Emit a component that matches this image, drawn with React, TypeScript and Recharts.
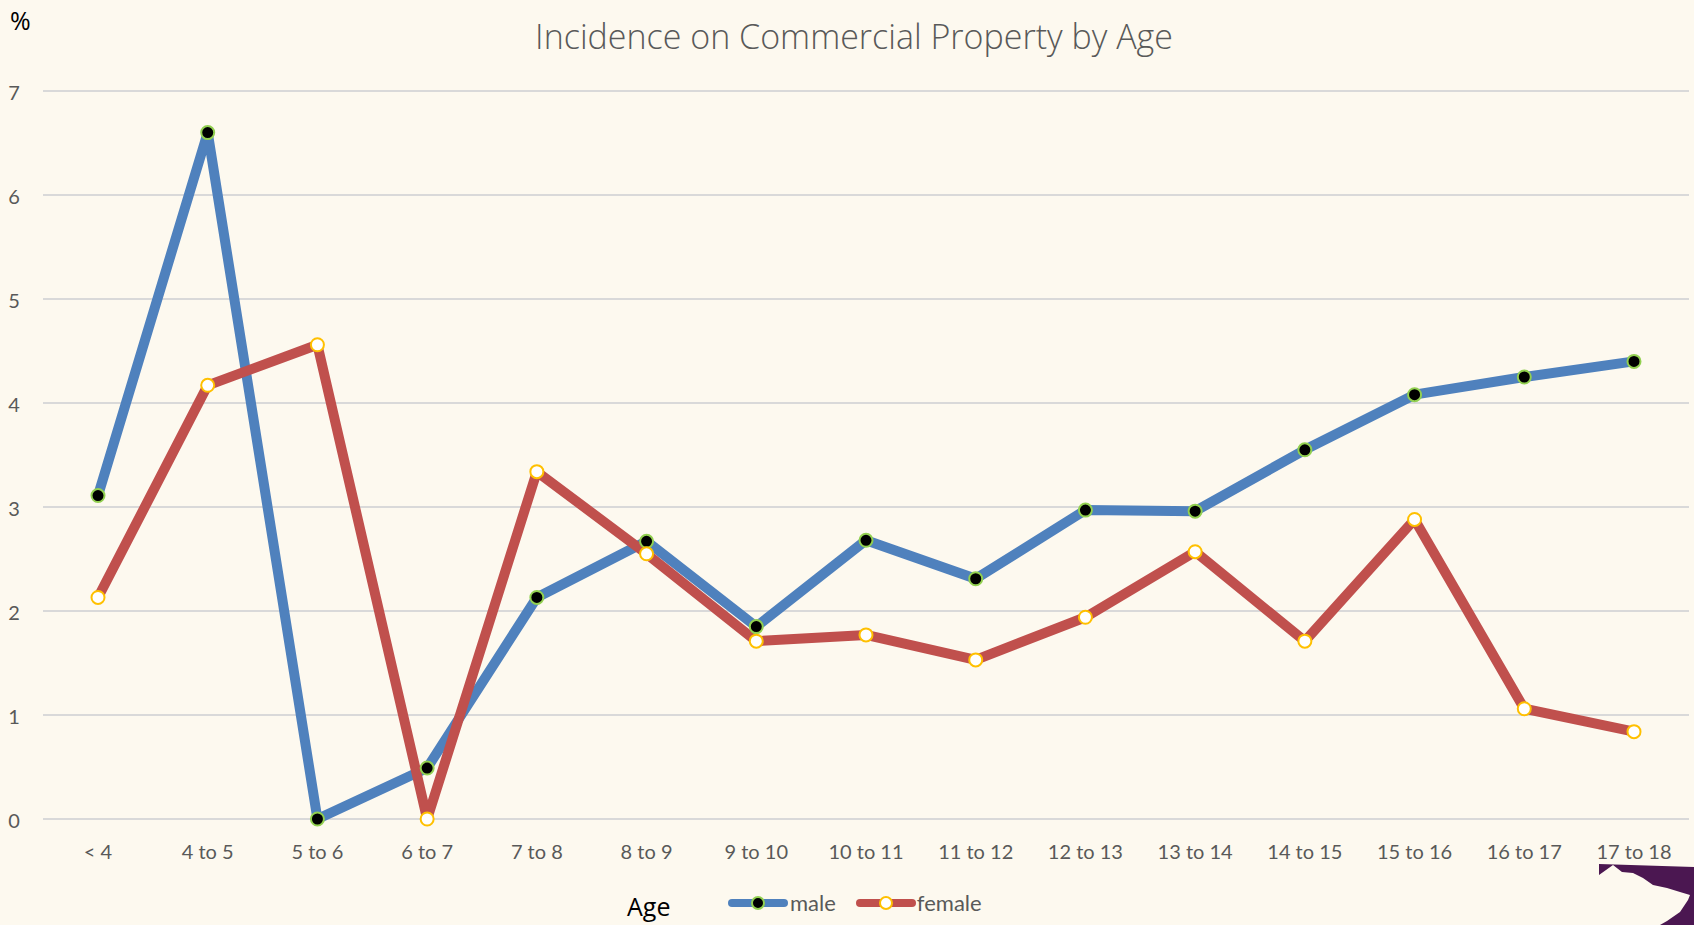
import { LineChart, Line, XAxis, YAxis, CartesianGrid } from 'recharts'

const AGES = ['< 4', '4 to 5', '5 to 6', '6 to 7', '7 to 8', '8 to 9', '9 to 10', '10 to 11', '11 to 12', '12 to 13', '13 to 14', '14 to 15', '15 to 16', '16 to 17', '17 to 18']
const MALE = [3.11, 6.6, 0, 0.49, 2.13, 2.67, 1.85, 2.68, 2.31, 2.97, 2.96, 3.55, 4.08, 4.25, 4.4]
const FEMALE = [2.13, 4.17, 4.56, 0, 3.34, 2.55, 1.71, 1.77, 1.53, 1.94, 2.57, 1.71, 2.88, 1.06, 0.84]
const Y_TICKS = [0, 1, 2, 3, 4, 5, 6, 7]

const BG = '#FDF9EF'
const TEXT = '#595959'
const MALE_COLOR = '#4F81BD'
const FEMALE_COLOR = '#C0504D'

const data = AGES.map((age, i) => ({ age, male: MALE[i], female: FEMALE[i] }))

function YTick({ y, payload }: any) {
  return (
    <text x={14} y={y + 1} textAnchor="middle" dominantBaseline="central" fontSize={20} fill={TEXT} fontFamily="Lato">
      {payload.value}
    </text>
  )
}

function XTick({ x, payload }: any) {
  return (
    <text x={x} y={851} textAnchor="middle" dominantBaseline="central" fontSize={20} fill={TEXT} fontFamily="Lato">
      {payload.value}
    </text>
  )
}

function LegendIcon({ color, fill, stroke }: { color: string; fill: string; stroke: string }) {
  return (
    <svg width={60} height={16} style={{ display: 'block' }}>
      <line x1={4} y1={8} x2={56} y2={8} stroke={color} strokeWidth={8} strokeLinecap="round" />
      <circle cx={30} cy={8} r={6} fill={fill} stroke={stroke} strokeWidth={2} />
    </svg>
  )
}

export default function App() {
  return (
    <div style={{ position: 'fixed', left: 0, top: 0, width: 1694, height: 925, background: BG, overflow: 'hidden' }}>
      {/* title and unit */}
      <div style={{ position: 'absolute', left: 404, top: 13, width: 900, textAlign: 'center', fontFamily: 'Open Sans', fontWeight: 300, fontSize: 34, lineHeight: '46px', color: TEXT }}>
        Incidence on Commercial Property by Age
      </div>
      <div style={{ position: 'absolute', left: 10, top: 5, fontFamily: 'Open Sans', fontSize: 25, lineHeight: '30px', color: '#000' }}>%</div>

      <LineChart width={1694} height={925} data={data} margin={{ top: 91, right: 5, bottom: 56, left: 0 }}>
        <CartesianGrid vertical={false} stroke="#D9D9D9" strokeWidth={2} />
        <XAxis dataKey="age" axisLine={false} tickLine={false} height={50} interval={0} padding={{ left: 55, right: 55 }} tick={<XTick />} />
        <YAxis domain={[0, 7]} ticks={Y_TICKS} axisLine={false} tickLine={false} width={43} tick={<YTick />} />
        <Line
          dataKey="male"
          stroke={MALE_COLOR}
          strokeWidth={10}
          strokeLinejoin="round"
          dot={{ r: 6.5, fill: '#000', stroke: '#92D050', strokeWidth: 2 }}
          isAnimationActive={false}
        />
        <Line
          dataKey="female"
          stroke={FEMALE_COLOR}
          strokeWidth={10}
          strokeLinejoin="round"
          dot={{ r: 6.5, fill: '#fff', stroke: '#FFC000', strokeWidth: 2 }}
          isAnimationActive={false}
        />
      </LineChart>

      {/* axis title and legend */}
      <div style={{ position: 'absolute', left: 627, top: 889, fontFamily: 'Open Sans', fontSize: 25, lineHeight: '34px', color: '#000' }}>Age</div>
      <div style={{ position: 'absolute', left: 728, top: 888, display: 'flex', alignItems: 'center', fontFamily: 'Lato', fontSize: 22, lineHeight: '30px', color: TEXT }}>
        <LegendIcon color={MALE_COLOR} fill="#000" stroke="#92D050" />
        <span style={{ marginLeft: 2 }}>male</span>
        <span style={{ width: 20 }} />
        <LegendIcon color={FEMALE_COLOR} fill="#fff" stroke="#FFC000" />
        <span style={{ marginLeft: 1 }}>female</span>
      </div>

      {/* logo corner */}
      <svg width={1694} height={925} style={{ position: 'absolute', left: 0, top: 0, pointerEvents: 'none' }}>
        <polygon
          fill="#4B1751"
          points="1599,864 1694,867 1694,925 1660,925 1667,921 1680,912 1688,900 1690,895 1680,892 1667,888 1653,885 1643,878 1633,873 1622,872 1613,865 1599,875"
        />
      </svg>
    </div>
  )
}
